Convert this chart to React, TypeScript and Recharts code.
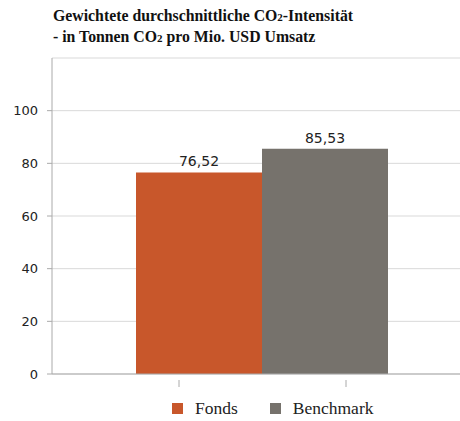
import { Bar, BarChart, CartesianGrid, LabelList, XAxis, YAxis } from 'recharts'

const categories = ['CO2-Intensität']
const fondsValues = [76.52]
const benchmarkValues = [85.53]
const yTicks = [0, 20, 40, 60, 80, 100]

const data = categories.map((name, i) => ({
  name,
  Fonds: fondsValues[i],
  Benchmark: benchmarkValues[i],
}))

const legendItems = [
  { label: 'Fonds', color: '#C8572B' },
  { label: 'Benchmark', color: '#76726C' },
]

const serif = '"Liberation Serif", "Times New Roman", "DejaVu Serif", serif'
const sans = '"DejaVu Sans", Verdana, sans-serif'

const formatValue = (v: number) => v.toFixed(2).replace('.', ',')

// the source chart puts two tick marks either side of the group centre
const CategoryTick = ({ x, y }: { x: number; y: number }) => (
  <g>
    <line x1={x - 83} x2={x - 83} y1={y - 2} y2={y + 5} stroke='#aaaaaa' />
    <line x1={x + 84} x2={x + 84} y1={y - 2} y2={y + 5} stroke='#aaaaaa' />
  </g>
)

export default function App() {
  return (
    <div
      style={{
        position: 'absolute',
        left: 0,
        top: 0,
        width: 460,
        height: 421,
        overflow: 'hidden',
        background: '#fff',
      }}
    >
      <div
        style={{
          position: 'absolute',
          left: 53,
          top: 6,
          fontFamily: serif,
          fontWeight: 'bold',
          fontSize: 15.8,
          lineHeight: '20px',
          color: '#111',
          whiteSpace: 'nowrap',
        }}
      >
        <div>
          Gewichtete durchschnittliche CO<span style={{ fontSize: 11 }}>2</span>-Intensität
        </div>
        <div>
          - in Tonnen CO<span style={{ fontSize: 11 }}>2</span> pro Mio. USD Umsatz
        </div>
      </div>
      <BarChart
        width={460}
        height={421}
        data={data}
        margin={{ top: 58, right: -12, left: 12, bottom: 27 }}
        barCategoryGap={84}
        barGap={0}
      >
        <CartesianGrid vertical={false} stroke='#d9d9d9' />
        <XAxis
          dataKey='name'
          stroke='#aaaaaa'
          tickLine={false}
          tick={CategoryTick as any}
          height={20}
        />
        <YAxis
          domain={[0, 120]}
          ticks={yTicks}
          width={40}
          stroke='#aaaaaa'
          tickSize={5}
          tickMargin={9}
          tick={{ fill: '#222', fontSize: 13, fontFamily: sans }}
        />
        <Bar dataKey='Fonds' fill='#C8572B' isAnimationActive={false}>
          <LabelList
            dataKey='Fonds'
            position='top'
            offset={6}
            formatter={(v: any) => formatValue(Number(v))}
            style={{ fill: '#222', fontSize: 14, fontFamily: sans }}
          />
        </Bar>
        <Bar dataKey='Benchmark' fill='#76726C' isAnimationActive={false}>
          <LabelList
            dataKey='Benchmark'
            position='top'
            offset={6}
            formatter={(v: any) => formatValue(Number(v))}
            style={{ fill: '#222', fontSize: 14, fontFamily: sans }}
          />
        </Bar>
      </BarChart>
      <div
        style={{
          position: 'absolute',
          left: 172,
          top: 398,
          display: 'flex',
          fontFamily: serif,
          fontSize: 17.5,
          color: '#222',
          whiteSpace: 'nowrap',
        }}
      >
        {legendItems.map((item, i) => (
          <div
            key={item.label}
            style={{ display: 'flex', alignItems: 'center', marginRight: i === 0 ? 32 : 0 }}
          >
            <span
              style={{
                display: 'inline-block',
                width: 11,
                height: 11,
                background: item.color,
                marginRight: 12,
              }}
            />
            <span>{item.label}</span>
          </div>
        ))}
      </div>
    </div>
  )
}
